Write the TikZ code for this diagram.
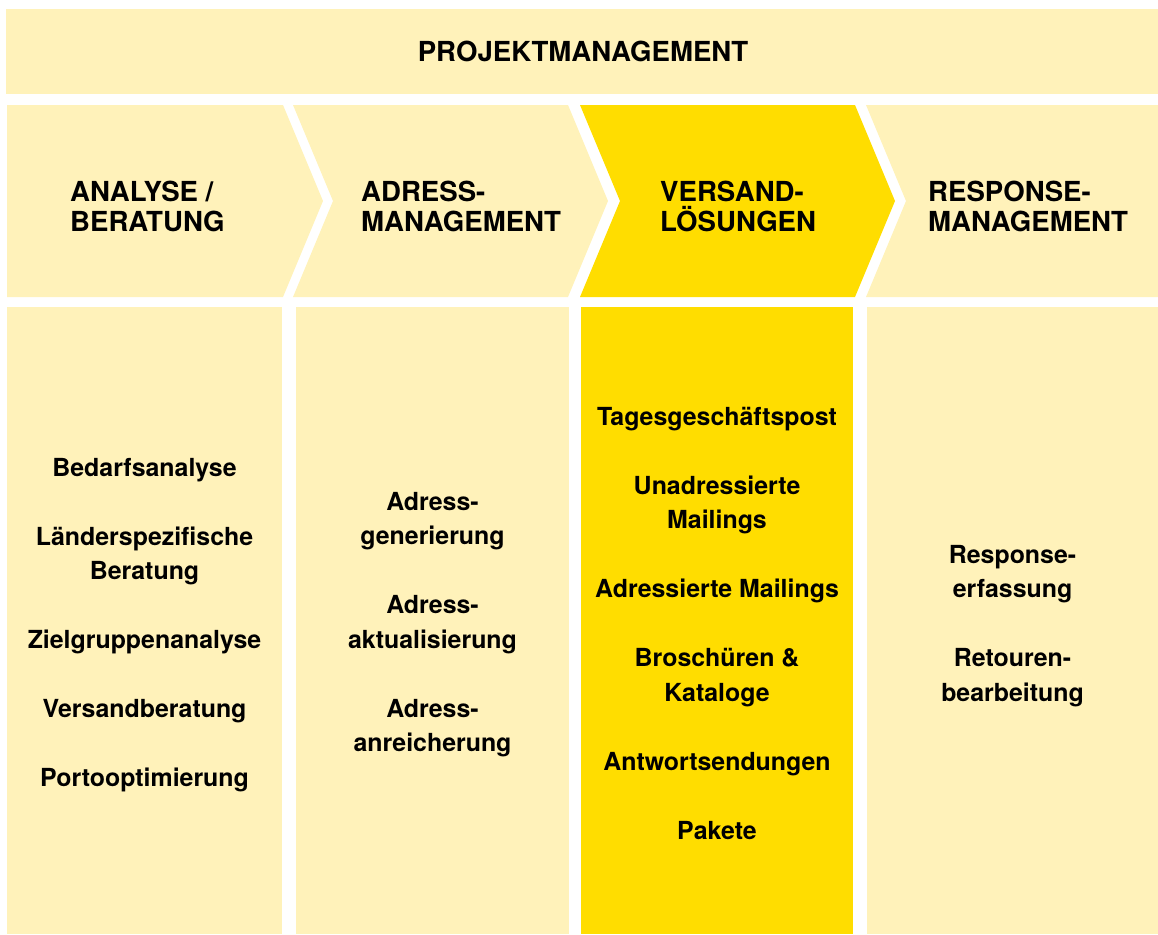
\documentclass[tikz,border=0pt]{standalone}
\usepackage{fontspec}
\setmainfont{TeX Gyre Heros}
\definecolor{lightyel}{RGB}{255,242,186}
\definecolor{brightyel}{RGB}{255,221,0}
\begin{document}
\begin{tikzpicture}[x=1pt,y=-1pt,
  panel/.style={fill=lightyel,draw=none},
  hot/.style={fill=brightyel,draw=none},
  headtext/.style={font=\fontsize{27.6}{30}\selectfont\bfseries,inner sep=0pt,align=left},
  itemtext/.style={font=\fontsize{24.9}{34.5}\selectfont\bfseries,inner sep=0pt,align=center,anchor=base}]
\useasboundingbox (0,0) rectangle (1158,934);
% top bar
\fill[panel] (6,9) rectangle (1158,94);
\node[headtext,anchor=base] (pm) at (583,62) {PROJEKTMANAGEMENT};
% chevrons
\fill[panel] (7,105) -- (283,105) -- (323,201) -- (283,297) -- (7,297) -- cycle;
\fill[panel] (293,105) -- (568,105) -- (608,201) -- (568,297) -- (293,297) -- (333,201) -- cycle;
\fill[hot] (580,105) -- (855,105) -- (895,201) -- (855,297) -- (580,297) -- (620,201) -- cycle;
\fill[panel] (866,105) -- (1158,105) -- (1158,297) -- (866,297) -- (906,201) -- cycle;
% (base anchor of a two-line node is the baseline of its last line)
\node[headtext,anchor=base west] (h1) at (70,231) {ANALYSE /\\BERATUNG};
\node[headtext,anchor=base west] (h2) at (361,231) {ADRESS-\\MANAGEMENT};
\node[headtext,anchor=base west] (h3) at (660,231) {VERSAND-\\LÖSUNGEN};
\node[headtext,anchor=base west] (h4) at (928,231) {RESPONSE-\\MANAGEMENT};
% columns
\fill[panel] (7,307) rectangle (282,934);
\fill[panel] (296,307) rectangle (569,934);
\fill[hot] (581,307) rectangle (853,934);
\fill[panel] (867,307) rectangle (1158,934);
% column 1
\node[itemtext] (a1) at (144.5,476) {Bedarfsanalyse};
\node[itemtext] (a2) at (144.5,579.5) {Länderspezifische\\Beratung};
\node[itemtext] (a3) at (144.5,648.5) {Zielgruppenanalyse};
\node[itemtext] (a4) at (144.5,717.5) {Versandberatung};
\node[itemtext] (a5) at (144.5,786.5) {Portooptimierung};
% column 2
\node[itemtext] (b1) at (432.5,544.5) {Adress-\\generierung};
\node[itemtext] (b2) at (432.5,648) {Adress-\\aktualisierung};
\node[itemtext] (b3) at (432.5,751.5) {Adress-\\anreicherung};
% column 3
\node[itemtext] (c1) at (717,425) {Tagesgeschäftspost};
\node[itemtext] (c2) at (717,528.5) {Unadressierte\\Mailings};
\node[itemtext] (c3) at (717,597.5) {Adressierte Mailings};
\node[itemtext] (c4) at (717,701) {Broschüren \&\\Kataloge};
\node[itemtext] (c5) at (717,770) {Antwortsendungen};
\node[itemtext] (c6) at (717,839) {Pakete};
% column 4
\node[itemtext] (d1) at (1012.5,597.5) {Response-\\erfassung};
\node[itemtext] (d2) at (1012.5,701) {Retouren-\\bearbeitung};
\end{tikzpicture}
\end{document}
